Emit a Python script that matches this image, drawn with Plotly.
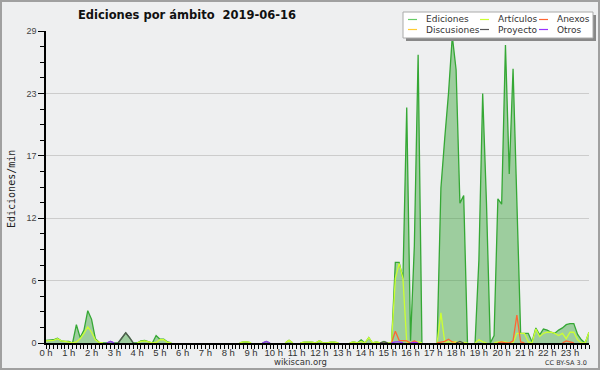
import plotly.graph_objects as go

# ---------------- data (10-minute steps, 00:00 .. 23:50) ----------------
ediciones = [
    0.25, 0.25, 0.3, 0.45, 0.2, 0.15, 0.15, 0.0, 1.7, 0.5, 1.2, 3.0,
    2.2, 0.4, 0.05, 0, 0, 0.15, 0, 0, 0.5, 0.95, 0.5, 0.0,
    0, 0.2, 0.25, 0.15, 0, 0.7, 0.35, 0.35, 0.1, 0, 0, 0,
    0, 0, 0, 0, 0, 0, 0, 0, 0, 0, 0, 0,
    0, 0, 0, 0, 0.1, 0.1, 0, 0, 0, 0, 0.15, 0,
    0, 0, 0, 0, 0.25, 0, 0, 0, 0.08, 0.08, 0.08, 0,
    0.2, 0, 0, 0.08, 0.08, 0, 0, 0, 0, 0.1, 0, 0.3,
    0, 0.5, 0, 0.1, 0, 0.15, 0, 0, 7.5, 7.5, 6.0, 21.9,
    0.2, 9.0, 26.8, 0, 0, 0, 0, 0, 14.4, 19.0, 23.2, 28.5,
    25.4, 13.0, 13.7, 0, 0, 0, 7.7, 23.2, 13.0, 0, 0.7, 13.4,
    12.9, 27.7, 15.7, 25.5, 12.0, 0.9, 0.9, 0.9, 0.1, 1.4, 0.75, 1.3,
    1.2, 1.0, 0.9, 1.2, 1.4, 1.7, 1.8, 1.8, 0.8, 0.3, 0, 1.0,
]
articulos = [
    0.2, 0.2, 0.25, 0.4, 0.2, 0.15, 0.1, 0, 0.1, 0.4, 0.9, 1.5,
    1.0, 0.3, 0.05, 0, 0, 0, 0, 0, 0, 0, 0, 0,
    0, 0.15, 0.2, 0.1, 0, 0.05, 0.3, 0.3, 0.05, 0, 0, 0,
    0, 0, 0, 0, 0, 0, 0, 0, 0, 0, 0, 0,
    0, 0, 0, 0, 0.1, 0.1, 0, 0, 0, 0, 0, 0,
    0, 0, 0, 0, 0.25, 0, 0, 0, 0.08, 0.08, 0.08, 0,
    0.2, 0, 0, 0.08, 0.08, 0, 0, 0, 0, 0.1, 0, 0.15,
    0, 0.5, 0, 0.1, 0, 0.05, 0, 0, 6.0, 7.4, 6.0, 0.1,
    0, 0.1, 0.1, 0, 0, 0, 0, 0, 2.8, 0.1, 0.1, 0.1,
    0.1, 0, 0.05, 0, 0, 0, 0.3, 0.1, 0, 0, 0, 0.1,
    0.1, 0.1, 0, 0, 0.9, 0.9, 0.9, 0.1, 0, 1.3, 0.6, 0.9,
    1.0, 1.0, 0.9, 0.7, 0.9, 0.4, 1.0, 1.0, 0.3, 0, 0, 1.0,
]
anexos = [0.0] * 144
for k, v in {92: 1.1, 93: 0.25, 94: 0.25, 95: 0.2, 97: 0.2, 104: 0.1, 105: 0.15,
             106: 0.35, 107: 0.1, 120: 0.1, 123: 0.2, 124: 2.6, 125: 0.1,
             137: 0.2, 138: 0.1}.items():
    anexos[k] = v
discusiones = [0.0] * 144
for k, v in {108: 0.05}.items():
    discusiones[k] = v
proyecto = [0.0] * 144
for k, v in {20: 0.5, 21: 0.95, 22: 0.5, 89: 0.1, 109: 0.15}.items():
    proyecto[k] = v
otros = [0.0] * 144
for k, v in {17: 0.15, 58: 0.15, 92: 0.1, 93: 0.1, 97: 0.05}.items():
    otros[k] = v

hours = [i / 6 for i in range(144)]
hour_ticks = list(range(24))
hour_labels = [f"{h} h" for h in hour_ticks]
y_tickvals = [0, 5.8, 11.6, 17.4, 23.2, 29]
y_ticktext = ["0", "6", "12", "17", "23", "29"]

names = ["Ediciones", "Artículos", "Anexos", "Discusiones", "Proyecto", "Otros"]
colors = ["#66cc66", "#ccff33", "#ff6633", "#ffcc33", "#555555", "#9933ff"]
series = [ediciones, articulos, anexos, discusiones, proyecto, otros]


def visible(vals):
    """Hide runs of zeros so flat zero stretches do not paint over the axis."""
    out = []
    n = len(vals)
    for i, v in enumerate(vals):
        nb = [vals[j] for j in (i - 1, i, i + 1) if 0 <= j < n]
        out.append(v if any(x > 0 for x in nb) else None)
    return out


# ---------------- geometry ----------------
W, H = 600, 370
L, R, T, B = 46, 11, 31, 27
PW, PH = W - L - R, H - T - B

def px(x):
    return (x - L) / PW

def py(y):
    return (H - B - y) / PH

NARROW = "Liberation Sans Narrow, Liberation Sans, DejaVu Sans"

fig = go.Figure()

fig.add_trace(go.Scatter(
    x=hours, y=visible(ediciones), mode="lines", name="Ediciones",
    line=dict(color="#35a835", width=1.3), connectgaps=False,
    fill="tozeroy", fillcolor="rgba(51,160,51,0.43)",
    showlegend=False, hoverinfo="skip"))
for nm, col, s in zip(names[1:], colors[1:], series[1:]):
    fig.add_trace(go.Scatter(
        x=hours, y=visible(s), mode="lines", name=nm, connectgaps=False,
        line=dict(color=col, width=1.3), showlegend=False, hoverinfo="skip"))

BG = "#eeeff0"
fig.update_layout(
    width=W, height=H,
    margin=dict(l=L, r=R, t=T, b=B),
    paper_bgcolor=BG, plot_bgcolor=BG,
    font=dict(family="DejaVu Sans", color="#333333", size=9),
    title=dict(text="<b>Ediciones por ámbito  2019-06-16</b>",
               x=187 / W, xanchor="center", xref="container",
               y=1 - 15 / H, yanchor="middle", yref="container",
               font=dict(family="DejaVu Sans", size=11.5, color="#111111")),
    xaxis=dict(range=[0, 143 / 6], tickmode="array", tickvals=hour_ticks,
               ticktext=hour_labels, ticks="", showline=True,
               linecolor="#000000", linewidth=1.5, showgrid=False,
               zeroline=False, layer="above traces",
               tickfont=dict(size=9.5, color="#333333", family=NARROW),
               minor=dict(tickmode="linear", tick0=0, dtick=1 / 6,
                          ticks="outside", ticklen=4, tickcolor="#000000",
                          showgrid=False)),
    yaxis=dict(range=[0, 29], tickmode="array", tickvals=y_tickvals,
               ticktext=y_ticktext, ticks="outside", ticklen=6, tickwidth=1,
               tickcolor="#000000", showline=True, linecolor="#000000",
               linewidth=1.5, showgrid=True, gridcolor="#cccccc",
               gridwidth=1, zeroline=False, layer="above traces",
               tickfont=dict(size=9, color="#444444", family=NARROW),
               minor=dict(tickmode="linear", tick0=0, dtick=1.45,
                          ticks="outside", ticklen=4, tickcolor="#000000",
                          showgrid=False)),
)

shapes = []
annotations = []
# outer frame
shapes.append(dict(type="rect", xref="paper", yref="paper",
                   x0=px(1), x1=px(W - 1), y0=py(H - 1), y1=py(1),
                   line=dict(color="#a0a0a0", width=2), fillcolor="rgba(0,0,0,0)",
                   layer="above"))
# legend box with shadow
shapes.append(dict(type="rect", xref="paper", yref="paper",
                   x0=px(406), x1=px(596), y0=py(41), y1=py(15),
                   line=dict(width=0), fillcolor="#888888", layer="above"))
shapes.append(dict(type="rect", xref="paper", yref="paper",
                   x0=px(403), x1=px(593), y0=py(38), y1=py(12),
                   line=dict(color="#aaaaaa", width=1), fillcolor="#ffffff",
                   layer="above"))
legend_pos = [(408, 424, 19.5), (480, 496, 19.5), (539, 555, 19.5),
              (408, 424, 29.5), (480, 496, 29.5), (539, 555, 29.5)]
for nm, col, (sx, tx, ty) in zip(names, colors, legend_pos):
    shapes.append(dict(type="line", xref="paper", yref="paper",
                       x0=px(sx), x1=px(sx + 9), y0=py(ty), y1=py(ty),
                       line=dict(color=col, width=1.2), layer="above"))
    annotations.append(dict(text=nm, xref="paper", yref="paper", x=px(tx),
                            y=py(ty), xanchor="left", yanchor="middle",
                            showarrow=False,
                            font=dict(size=9, color="#333333",
                                      family="DejaVu Sans")))
# axis title
annotations.append(dict(text="Ediciones/min", xref="paper", yref="paper",
                        x=px(11), y=py(189), textangle=-90, showarrow=False,
                        xanchor="center", yanchor="middle",
                        font=dict(size=10, family="DejaVu Sans Mono",
                                  color="#222222")))
annotations.append(dict(text="wikiscan.org", xref="paper", yref="paper",
                        x=px(300), y=py(362), showarrow=False,
                        xanchor="center", yanchor="middle",
                        font=dict(size=8.5, color="#333333")))
annotations.append(dict(text="CC BY-SA 3.0", xref="paper", yref="paper",
                        x=px(589), y=py(363), showarrow=False,
                        xanchor="right", yanchor="middle",
                        font=dict(size=6.5, color="#333333")))
fig.update_layout(shapes=shapes, annotations=annotations)

fig.write_html("out.html")
